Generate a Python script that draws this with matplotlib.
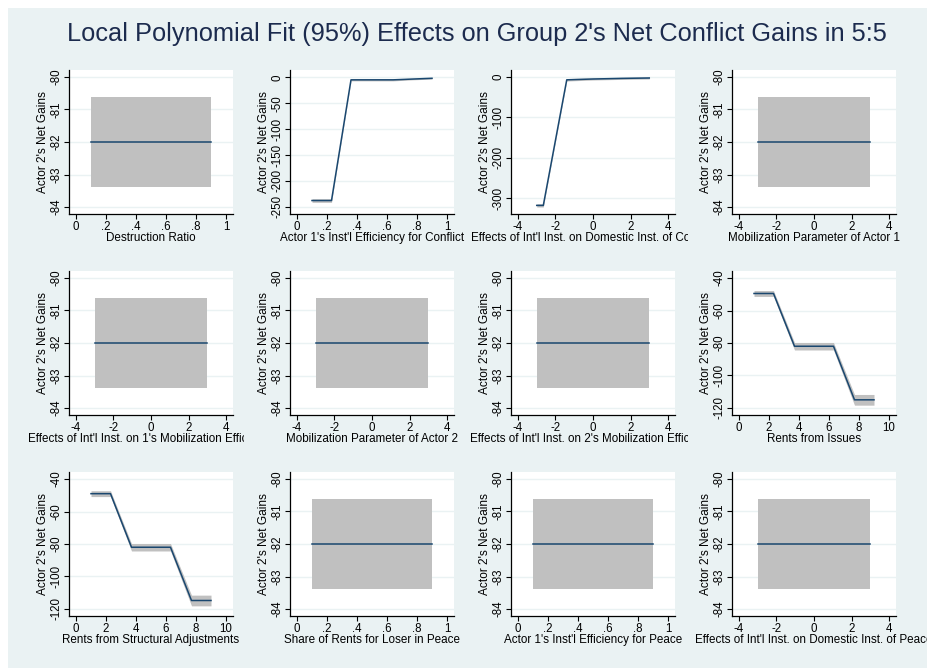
import numpy as np
import matplotlib
matplotlib.use("Agg")
import matplotlib.pyplot as plt
from matplotlib.patches import Rectangle
from matplotlib.transforms import Bbox

plt.close("all")

plt.rcParams.update({"font.family": ["Liberation Sans", "DejaVu Sans"],
                     "font.size": 8.5,
                     "axes.unicode_minus": False})


#%%
# data
title = "Local Polynomial Fit (95%) Effects on Group 2's Net Conflict Gains in 5:5"
y_title = "Actor 2's Net Gains"

x_labels = ["Destruction Ratio",
            "Actor 1's Inst'l Efficiency for Conflict",
            "Effects of Int'l Inst. on Domestic Inst. of Conflict",
            "Mobilization Parameter of Actor 1",
            "Effects of Int'l Inst. on 1's Mobilization Efficiency",
            "Mobilization Parameter of Actor 2",
            "Effects of Int'l Inst. on 2's Mobilization Efficiency",
            "Rents from Issues",
            "Rents from Structural Adjustments",
            "Share of Rents for Loser in Peace",
            "Actor 1's Inst'l Efficiency for Peace",
            "Effects of Int'l Inst. on Domestic Inst. of Peace"]

# flat fits
x_ratio = [0.1, 0.9]
x_param = [-3, 3]
flat_fit = [-82.0, -82.0]
flat_lo = [-83.38, -83.38]
flat_hi = [-80.62, -80.62]

# Actor 1's Inst'l Efficiency for Conflict
x_conf = [0.1, 0.23, 0.36, 0.5, 0.64, 0.77, 0.9]
fit_conf = [-238, -238, -5, -5, -5, -3.5, -2]
half_conf = [3.5, 3.5, 2.0, 2.0, 2.0, 1.5, 1.5]

# Effects of Int'l Inst. on Domestic Inst. of Conflict
x_dom = [-3, -2.65, -1.4, 0, 1.5, 3]
fit_dom = [-318, -318, -7, -5, -3.5, -2.5]
half_dom = [4.0, 4.0, 3.0, 2.5, 2.5, 2.5]

# Rents from Issues
x_iss = [1, 2.3, 3.7, 6.3, 7.7, 9]
fit_iss = [-49.5, -49.5, -82, -82, -115, -115]
half_iss = [1.8, 1.8, 2.3, 2.3, 3.3, 3.3]

# Rents from Structural Adjustments
x_str = [1, 2.3, 3.7, 6.3, 7.7, 9]
fit_str = [-49.0, -49.0, -82, -82, -114.8, -114.8]
half_str = [1.8, 1.8, 2.3, 2.3, 3.3, 3.3]

ratio_ticks = [0, 0.2, 0.4, 0.6, 0.8, 1]
ratio_ticklabels = ["0", ".2", ".4", ".6", ".8", "1"]
param_ticks = [-4, -2, 0, 2, 4]
rents_ticks = [0, 2, 4, 6, 8, 10]
flat_yticks = [-84, -83, -82, -81, -80]
conf_yticks = [-250, -200, -150, -100, -50, 0]
dom_yticks = [-300, -200, -100, 0]
rents_yticks = [-120, -100, -80, -60, -40]


#%%
def band(x, fit, half):
    x = np.array(x, dtype=float)
    fit = np.array(fit, dtype=float)
    half = np.array(half, dtype=float)
    return x, fit, fit-half, fit+half

x_f, y_f, lo_f, hi_f = np.array(x_ratio), np.array(flat_fit), np.array(flat_lo), np.array(flat_hi)
xp_f = np.array(x_param)

panels = [
    (x_f, y_f, lo_f, hi_f, "ratio", flat_yticks, (-84.215, -79.785)),
    (*band(x_conf, fit_conf, half_conf), "ratio", conf_yticks, (-264.0, 14.0)),
    (*band(x_dom, fit_dom, half_dom), "param", dom_yticks, (-339.3, 17.3)),
    (xp_f, y_f, lo_f, hi_f, "param", flat_yticks, (-84.215, -79.785)),
    (xp_f, y_f, lo_f, hi_f, "param", flat_yticks, (-84.215, -79.785)),
    (xp_f, y_f, lo_f, hi_f, "param", flat_yticks, (-84.215, -79.785)),
    (xp_f, y_f, lo_f, hi_f, "param", flat_yticks, (-84.215, -79.785)),
    (*band(x_iss, fit_iss, half_iss), "rents", rents_yticks, (-124.35, -35.65)),
    (*band(x_str, fit_str, half_str), "rents", rents_yticks, (-124.35, -35.65)),
    (x_f, y_f, lo_f, hi_f, "ratio", flat_yticks, (-84.215, -79.785)),
    (x_f, y_f, lo_f, hi_f, "ratio", flat_yticks, (-84.215, -79.785)),
    (xp_f, y_f, lo_f, hi_f, "param", flat_yticks, (-84.215, -79.785)),
]


#%%
W, H = 927, 668
fig = plt.figure(figsize=(W/100, H/100), dpi=100)
fig.patch.set_facecolor("white")
fig.add_artist(Rectangle((8/W, 0), 1-8/W, 1-8/H, transform=fig.transFigure,
                         facecolor="#EAF2F3", edgecolor="none", zorder=0))

fig.text(477/W, 1-34/H, title, ha="center", va="center",
         fontsize=18.3, color="#1C2B4E")

col_left = [69, 290, 511, 732]
row_top = [70, 271, 472]
ax_w, ax_h = 164, 144
clip_right = [244, 470, 688, W]

line_color = "#1A476F"
band_color = "#C0C0C0"
grid_color = "#EAF2F3"

for i, (x, fit, lo, hi, xkind, yticks, ylim) in enumerate(panels):
    r, c = divmod(i, 4)
    left = col_left[c]
    top = row_top[r]
    ax = fig.add_axes([left/W, 1-(top+ax_h)/H, ax_w/W, ax_h/H])
    ax.set_facecolor("white")

    ax.fill_between(x, lo, hi, color=band_color, linewidth=0, zorder=2)
    ax.plot(x, fit, color=line_color, linewidth=1.1, zorder=3)

    if xkind == "ratio":
        ax.set_xticks(ratio_ticks)
        ax.set_xticklabels(ratio_ticklabels)
        ax.set_xlim(-0.0467, 1.0467)
    elif xkind == "param":
        ax.set_xticks(param_ticks)
        ax.set_xlim(-4.373, 4.373)
    else:
        ax.set_xticks(rents_ticks)
        ax.set_xlim(-0.467, 10.467)

    ax.set_yticks(yticks)
    ax.set_yticklabels([str(v) for v in yticks], rotation=90, va="center")
    ax.set_ylim(*ylim)

    ax.grid(axis="y", color=grid_color, linewidth=1.0, zorder=1)
    ax.set_axisbelow(True)

    for s in ["top", "right"]:
        ax.spines[s].set_visible(False)
    for s in ["left", "bottom"]:
        ax.spines[s].set_color("#000000")
        ax.spines[s].set_linewidth(0.9)

    ax.tick_params(axis="both", direction="out", length=3.3, width=0.8,
                   colors="black", labelsize=8.3, pad=1.5)

    ax.set_ylabel(y_title, fontsize=8.6, labelpad=1)

    xt = fig.text((left+ax_w/2)/W, 1-(top+ax_h+24)/H, x_labels[i],
                  ha="center", va="center", fontsize=8.4)
    xt.set_clip_box(Bbox.from_extents(0, 0, clip_right[c], H))
    xt.set_clip_on(True)

plt.savefig("out.png", dpi=100)
